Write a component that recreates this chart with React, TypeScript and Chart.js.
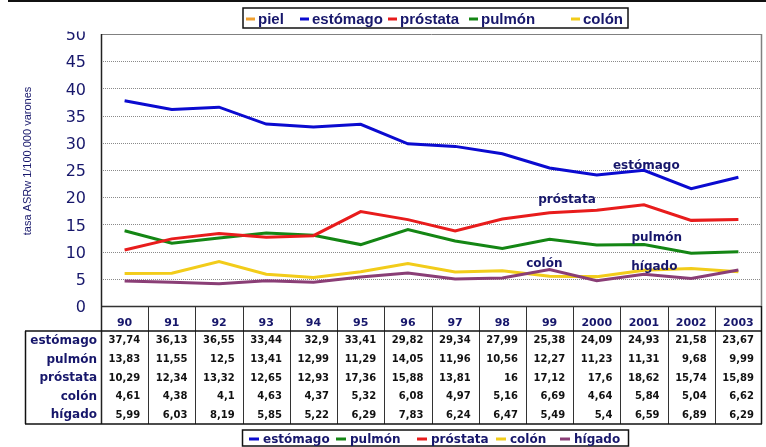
import React, { useEffect, useRef } from 'react';
import { Chart, registerables } from 'chart.js';

Chart.register(...registerables);

// ---- data ----
const years = ['90', '91', '92', '93', '94', '95', '96', '97', '98', '99', '2000', '2001', '2002', '2003'];
const estomago = [37.74, 36.13, 36.55, 33.44, 32.9, 33.41, 29.82, 29.34, 27.99, 25.38, 24.09, 24.93, 21.58, 23.67];
const pulmon = [13.83, 11.55, 12.5, 13.41, 12.99, 11.29, 14.05, 11.96, 10.56, 12.27, 11.23, 11.31, 9.68, 9.99];
const prostata = [10.29, 12.34, 13.32, 12.65, 12.93, 17.36, 15.88, 13.81, 16, 17.12, 17.6, 18.62, 15.74, 15.89];
const colonTabla = [4.61, 4.38, 4.1, 4.63, 4.37, 5.32, 6.08, 4.97, 5.16, 6.69, 4.64, 5.84, 5.04, 6.62];
const higadoTabla = [5.99, 6.03, 8.19, 5.85, 5.22, 6.29, 7.83, 6.24, 6.47, 5.49, 5.4, 6.59, 6.89, 6.29];
const yTicks = [0, 5, 10, 15, 20, 25, 30, 35, 40, 45, 50];
const topLegend = ['piel', 'estómago', 'próstata', 'pulmón', 'colón'];
const bottomLegend = ['estómago', 'pulmón', 'próstata', 'colón', 'hígado'];
const tableRows = ['estómago', 'pulmón', 'próstata', 'colón', 'hígado'];
const tableValues = [estomago, pulmon, prostata, colonTabla, higadoTabla];
const yTitle = 'tasa ASRw 1/100.000 varones';
// in-plot labels: [text, category index, value]
const plotLabels: [string, number, number][] = [
  ['estómago', 11.05, 25.7],
  ['próstata', 9.37, 19.5],
  ['pulmón', 11.27, 12.6],
  ['colón', 8.89, 7.7],
  ['hígado', 11.22, 7.2],
];

// ---- styles ----
const NAVY = '#17176b';
const C_BLUE = '#0b0bd0';
const C_RED = '#e81c1c';
const C_GREEN = '#148614';
const C_YELLOW = '#f2cc1a';
const C_PURPLE = '#8a3e76';
const C_ORANGE = '#f0a030';
const topLegendColors = [C_ORANGE, C_BLUE, C_RED, C_GREEN, C_YELLOW];
const bottomLegendColors = [C_BLUE, C_GREEN, C_RED, C_YELLOW, C_PURPLE];
const topLegendX = [258, 312, 400, 481, 583];
const bottomLegendX = [263, 350, 431, 510, 574];

function text(ctx: CanvasRenderingContext2D, s: string, x: number, y: number, font: string, color: string, align: CanvasTextAlign = 'left') {
  ctx.save();
  ctx.font = font;
  ctx.fillStyle = color;
  ctx.textAlign = align;
  ctx.textBaseline = 'middle';
  ctx.fillText(s, x, y);
  ctx.restore();
}

function line(ctx: CanvasRenderingContext2D, x1: number, y1: number, x2: number, y2: number, color: string, w: number, dash: number[] = []) {
  ctx.save();
  ctx.strokeStyle = color;
  ctx.lineWidth = w;
  ctx.setLineDash(dash);
  ctx.beginPath();
  ctx.moveTo(x1, y1);
  ctx.lineTo(x2, y2);
  ctx.stroke();
  ctx.restore();
}

const decor = {
  id: 'decor',
  beforeDraw(chart: any) {
    const ctx = chart.ctx as CanvasRenderingContext2D;
    ctx.save();
    ctx.fillStyle = '#ffffff';
    ctx.fillRect(0, 0, chart.width, chart.height);
    ctx.fillStyle = '#111111';
    ctx.fillRect(8, 0, chart.width - 8, 2);
    ctx.restore();
  },
  beforeDatasetsDraw(chart: any) {
    const ctx = chart.ctx as CanvasRenderingContext2D;
    const ca = chart.chartArea;
    const y = chart.scales.y;
    yTicks.forEach((v) => {
      if (v === 0 || v === 50) return;
      const py = Math.round(y.getPixelForValue(v)) + 0.5;
      line(ctx, ca.left, py, ca.right, py, '#8a8a8a', 1, [1, 1]);
    });
    // plot frame
    line(ctx, ca.left, ca.top + 0.5, ca.right, ca.top + 0.5, '#808080', 1);
  },
  afterDraw(chart: any) {
    const ctx = chart.ctx as CanvasRenderingContext2D;
    const ca = chart.chartArea;
    const x = chart.scales.x;
    const y = chart.scales.y;
    const n = years.length;
    const colW = (ca.right - ca.left) / n;
    const headerTop = ca.bottom;
    const tableTop = ca.bottom + 25;
    const rowH = 18.6;
    const tableBottom = tableTop + rowH * tableRows.length;
    const labelLeft = 25;

    // in-plot labels
    plotLabels.forEach(([s, xi, v]) => {
      text(ctx, s, x.getPixelForValue(xi), y.getPixelForValue(v), 'bold 12px "DejaVu Sans"', NAVY, 'center');
    });

    // y tick labels
    yTicks.forEach((v) => {
      text(ctx, String(v), ca.left - 15, y.getPixelForValue(v) + 2, '16px "DejaVu Sans"', NAVY, 'right');
    });
    ctx.save();
    ctx.fillStyle = '#ffffff';
    ctx.fillRect(50, 12, 48, 19.5);
    ctx.restore();

    // y title
    ctx.save();
    ctx.translate(28, 161);
    ctx.rotate(-Math.PI / 2);
    text(ctx, yTitle, 0, 0, '11px "Liberation Sans", Arial', NAVY, 'center');
    ctx.restore();

    // axes / frame lines
    line(ctx, ca.left, ca.bottom + 0.5, ca.right, ca.bottom + 0.5, '#333333', 1.5);
    line(ctx, ca.left + 0.5, ca.top, ca.left + 0.5, tableBottom, '#222222', 1.5);
    line(ctx, ca.right - 0.5, ca.top, ca.right - 0.5, headerTop, '#808080', 1.5);
    line(ctx, ca.right - 0.5, headerTop, ca.right - 0.5, tableBottom, '#111111', 1.5);

    // table grid
    for (let i = 1; i < n; i++) {
      const bx = Math.round(ca.left + i * colW) + 0.5;
      line(ctx, bx, headerTop, bx, tableBottom, '#333333', 1);
    }
    line(ctx, labelLeft, tableTop, ca.right, tableTop, '#111111', 1.5);
    line(ctx, labelLeft, tableBottom, ca.right, tableBottom, '#111111', 1.5);
    line(ctx, labelLeft + 0.5, tableTop, labelLeft + 0.5, tableBottom, '#111111', 1.5);

    // header
    years.forEach((yr, i) => {
      text(ctx, yr, x.getPixelForValue(i), headerTop + 17, 'bold 11px "DejaVu Sans"', NAVY, 'center');
    });
    // rows
    tableRows.forEach((lab, r) => {
      const cy = tableTop + rowH * r + rowH / 2 + 0.5;
      text(ctx, lab, ca.left - 4, cy, 'bold 12px "DejaVu Sans"', NAVY, 'right');
      tableValues[r].forEach((v, i) => {
        const right = ca.left + (i + 1) * colW - 8;
        text(ctx, String(v).replace('.', ','), right, cy, 'bold 10px "DejaVu Sans"', '#111111', 'right');
      });
    });

    // top legend
    ctx.save();
    ctx.strokeStyle = '#111111';
    ctx.lineWidth = 1.5;
    ctx.strokeRect(243, 8, 385, 20);
    ctx.restore();
    topLegend.forEach((s, i) => {
      const tx = topLegendX[i];
      ctx.save();
      ctx.fillStyle = topLegendColors[i];
      ctx.fillRect(tx - 12, 17.5, 9, 3);
      ctx.restore();
      text(ctx, s, tx, 19.5, 'bold 15px "Liberation Sans", Arial', NAVY, 'left');
    });

    // bottom legend
    ctx.save();
    ctx.strokeStyle = '#111111';
    ctx.lineWidth = 1.5;
    ctx.strokeRect(242.5, 430, 386, 16);
    ctx.restore();
    bottomLegend.forEach((s, i) => {
      const tx = bottomLegendX[i];
      ctx.save();
      ctx.fillStyle = bottomLegendColors[i];
      ctx.fillRect(tx - 14, 437.5, 10, 3);
      ctx.restore();
      text(ctx, s, tx, 439.5, 'bold 12px "DejaVu Sans"', NAVY, 'left');
    });
  },
};

export default function App() {
  const ref = useRef<HTMLCanvasElement | null>(null);
  useEffect(() => {
    if (!ref.current) return;
    const ds = (label: string, data: number[], color: string) => ({
      label,
      data,
      borderColor: color,
      backgroundColor: color,
      borderWidth: 3,
      pointRadius: 0,
      tension: 0,
      fill: false,
    });
    const chart = new Chart(ref.current, {
      type: 'line',
      data: {
        labels: years,
        datasets: [
          ds('estómago', estomago, C_BLUE),
          ds('próstata', prostata, C_RED),
          ds('pulmón', pulmon, C_GREEN),
          // as drawn in the original figure: purple follows the first small row, yellow the second
          ds('hígado', colonTabla, C_PURPLE),
          ds('colón', higadoTabla, C_YELLOW),
        ],
      },
      options: {
        responsive: false,
        animation: false,
        devicePixelRatio: 1,
        layout: { padding: { left: 101, top: 34, right: 4, bottom: 141 } },
        plugins: { legend: { display: false }, tooltip: { enabled: false } },
        scales: {
          x: { display: false, offset: true },
          y: { display: false, min: 0, max: 50 },
        },
      },
      plugins: [decor],
    });
    return () => chart.destroy();
  }, []);
  return (
    <div style={{ position: 'absolute', left: 0, top: 0, width: 766, height: 447 }}>
      <canvas ref={ref} width={766} height={447} />
    </div>
  );
}
